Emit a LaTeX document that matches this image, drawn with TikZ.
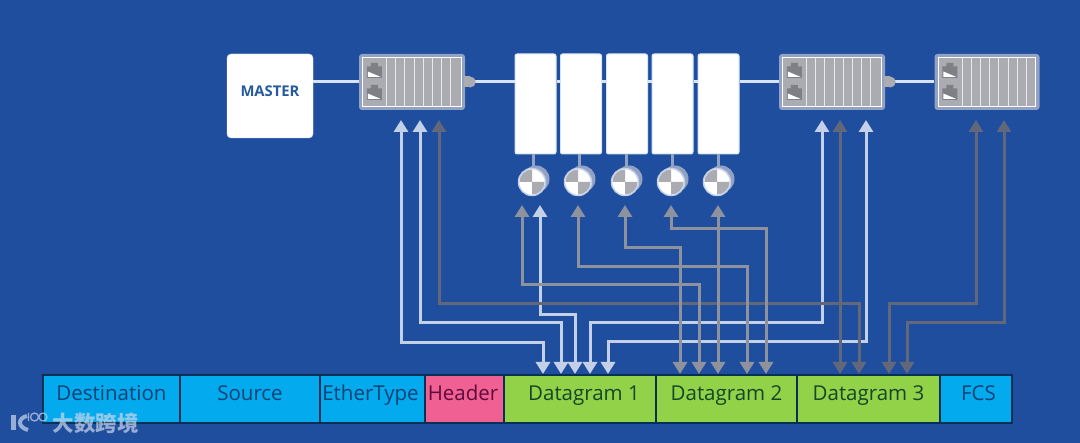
\documentclass[tikz,border=0pt]{standalone}
\usepackage{fontspec}
\setmainfont{Open Sans}
\newfontfamily\cjkfont{Noto Sans CJK SC}
\usepackage{tikz}
\usetikzlibrary{arrows.meta,positioning,calc}
\definecolor{slideblue}{RGB}{31,78,158}
\definecolor{fieldcyan}{RGB}{4,170,238}
\definecolor{fieldpink}{RGB}{240,96,146}
\definecolor{fieldgreen}{RGB}{146,210,72}
\definecolor{fieldedge}{RGB}{8,48,84}
\definecolor{cyantext}{RGB}{8,66,116}
\definecolor{pinktext}{RGB}{96,10,60}
\definecolor{greentext}{RGB}{20,70,40}
\definecolor{couplergray}{RGB}{170,172,178}
\definecolor{coupleredge}{RGB}{146,162,196}
\definecolor{portgray}{RGB}{126,128,134}
\definecolor{buslight}{RGB}{214,228,246}
\definecolor{wirelight}{RGB}{196,208,232}
\definecolor{wiremid}{RGB}{142,146,156}
\definecolor{wiredark}{RGB}{98,104,122}
\definecolor{masterblue}{RGB}{38,92,158}
\definecolor{marklight}{RGB}{205,215,235}
\tikzset{
  master/.style={draw=buslight, fill=white, rounded corners=4pt, minimum width=86pt, minimum height=84pt, inner sep=0pt, text height=24pt, text depth=22pt},
  coupler/.style={fill=coupleredge, rounded corners=3pt, minimum width=#1, minimum height=56pt, inner sep=0pt},
  slice/.style={draw=buslight, line width=1pt, fill=white, rounded corners=2pt, minimum width=41pt, minimum height=100pt, inner sep=0pt},
  disc/.style={circle, draw=wirelight, line width=1.5pt, fill=white, minimum size=27pt, inner sep=0pt},
  field/.style={draw=fieldedge, line width=1.4pt, fill=#1, minimum height=48pt, inner sep=0pt, text height=14pt, text depth=10pt, font=\fontsize{20.5}{20.5}\selectfont},
  bus/.style={draw=buslight, line width=3pt},
  stem/.style={draw=coupleredge, line width=3pt},
  wire/.style={line width=3pt, draw=#1, <->, >={Triangle[width=14pt,length=12pt]}},
  logostroke/.style={marklight, opacity=0.7, line width=#1},
  portglyph/.pic={
    \fill[portgray, x=1pt, y=1pt] (-7.5,-7.5) -- (7.5,-7.5) -- (7.5,4) -- (3.5,4) -- (3.5,7.5) -- (-3.5,7.5) -- (-3.5,4) -- (-7.5,4) -- cycle;
    \fill[white, x=1pt, y=1pt] (-6.5,-6.5) -- (6.5,-6.5) -- (-6.5,-1) -- cycle;
  }
}
\begin{document}
\begin{tikzpicture}[x=1pt, y=-1pt]
    \useasboundingbox (0,0) rectangle (1080,443);
    \fill[slideblue] (0,0) rectangle (1080,443);
    % network row
    \node[master] (master) at (270,96) {\fontsize{14.8}{14.8}\selectfont\bfseries\color{masterblue}MASTER};
    \node[coupler=106pt] (coupA) at (412,82) {};
    \node[coupler=106pt] (coupB) at (832,82) {};
    \node[coupler=105pt] (coupC) at (987,82) {};
    \foreach \n/\x in {1/535.5, 2/581, 3/627, 4/672.5, 5/718.5} {
        \node[slice] (slice\n) at (\x,104) {};
    }
    % bus segments
    \foreach \a/\b in {master/coupA, coupA/slice1, slice1/slice2, slice2/slice3, slice3/slice4, slice4/slice5, slice5/coupB, coupB/coupC} {
        \draw[bus] (\a.east |- coupA.west) -- (\b.west |- coupA.west);
    }
    % coupler faces
    \foreach \c in {coupA, coupB, coupC} {
        \draw[white, line width=1pt, fill=couplergray] ([shift={(4pt,4pt)}]\c.south west) rectangle ([shift={(-4pt,-4pt)}]\c.north east);
        \foreach \i in {0,...,7} {
            \draw[white!75!couplergray, line width=0.6pt] ([shift={(\i*9.2pt+27.5pt,4pt)}]\c.south west) -- ([shift={(\i*9.2pt+27.5pt,-4pt)}]\c.north west);
        }
        \pic at ([shift={(15.5pt,11.5pt)}]\c.west) {portglyph};
        \pic at ([shift={(15.5pt,-10.5pt)}]\c.west) {portglyph};
    }
    % bumps on the coupler edge
    \foreach \c in {coupA, coupB} {
        \fill[couplergray] (\c.east) ++(-1pt,-5.5pt) rectangle ++(6pt,11pt);
        \fill[couplergray] ([xshift=5pt]\c.east) circle (5.5pt);
    }
    % discs below the slices
    \foreach \n/\x in {1/532, 2/578, 3/625, 4/671, 5/717} {
        \fill[coupleredge] (\x+4,179) circle (13.5pt);
        \draw[stem] (slice\n.south -| \x+1,0) -- (\x+1,170);
        \node[disc] (disc\n) at (\x,182) {};
        \fill[couplergray] (disc\n.center) -- ++(180:12.5pt) arc (180:90:12.5pt) -- cycle;
        \fill[couplergray] (disc\n.center) -- ++(0:12.5pt) arc (0:-90:12.5pt) -- cycle;
    }
    % frame fields
    \node[field=fieldcyan, text=cyantext, minimum width=137pt] (fdest) at (111.5,399) {Destination};
    \node[field=fieldcyan, text=cyantext, minimum width=140pt] (fsource) at (250,399) {Source};
    \node[field=fieldcyan, text=cyantext, minimum width=105pt] (fether) at (372.5,399) {\hspace{-4pt}EtherType};
    \node[field=fieldpink, text=pinktext, minimum width=79pt] (fheader) at (464.5,399) {\hspace{-3pt}Header};
    \node[field=fieldgreen, text=greentext, minimum width=152pt] (fdataA) at (580,399) {\hspace{8pt}Datagram 1};
    \node[field=fieldgreen, text=greentext, minimum width=141pt] (fdataB) at (726.5,399) {Datagram 2};
    \node[field=fieldgreen, text=greentext, minimum width=143pt] (fdataC) at (868.5,399) {Datagram 3};
    \node[field=fieldcyan, text=cyantext, minimum width=72pt] (ffcs) at (976,399) {\hspace{5pt}FCS};
    % wire ends
    \foreach \name/\x in {a/401, b/420, c/439, f/822, g/840, h/866, i/976, j/1004} {
        \coordinate (up\name) at (\x,120);
    }
    \foreach \name/\x in {d/522, e/540, k/578, l/625, m/671, n/718} {
        \coordinate (up\name) at (\x,205);
    }
    \foreach \name/\x in {a/543, b/561, e/575, f/590, h/608, k/747, d/699, l/680, m/766, n/718, g/840, c/859, i/889, j/907} {
        \coordinate (down\name) at (\x,374);
    }
    % light wires
    \foreach \w/\y in {a/343, b/323, e/315, f/323, h/342} {
        \draw[wire=wirelight] (up\w) -- (up\w |- 0,\y) -- (down\w |- 0,\y) -- (down\w);
    }
    % dark wires
    \foreach \w/\y in {c/304, i/304, j/323} {
        \draw[wire=wiredark] (up\w) -- (up\w |- 0,\y) -- (down\w |- 0,\y) -- (down\w);
    }
    \draw[wire=wiredark] (upg) -- (downg);
    % grey wires
    \foreach \w/\y in {d/285, k/267, l/248, m/229} {
        \draw[wire=wiremid] (up\w) -- (up\w |- 0,\y) -- (down\w |- 0,\y) -- (down\w);
    }
    \draw[wire=wiremid] (upn) -- (downn);
    % watermark
    \node[text=marklight, opacity=0.7, font=\cjkfont\bfseries\fontsize{21.5}{21.5}\selectfont, inner sep=0pt] (mark) at (95.5,423) {大数跨境};
    \draw[logostroke=4.5pt] (13.5,415) -- (13.5,430);
    \draw[logostroke=4pt] (27,416) .. controls (18,418) and (17,427) .. (28,430);
    \draw[logostroke=1.3pt] (28.5,413) -- (28.5,421) (34.5,417) circle (4pt) (43,417) circle (4pt);
\end{tikzpicture}
\end{document}
